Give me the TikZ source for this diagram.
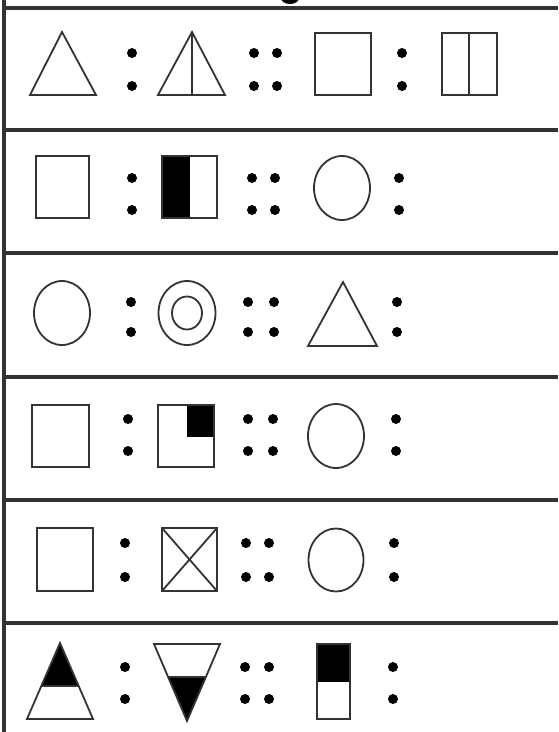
\documentclass[tikz,border=0pt]{standalone}
\usepackage{tikz}
\usetikzlibrary{calc}
\tikzset{
  rule/.style={line width=3.5pt, black!80},
  fig/.style={line width=1.8pt, black!80},
  dotm/.style={fill=black},
}
% the four ":" / "::" marks of one row
\newcommand{\ratiomarks}[6]{%
  \foreach \dx in {#3,#4,#5,#6}
    \foreach \dy in {#1,#2}
      \fill[dotm] (\dx,\dy) circle (5);
}

\begin{document}
\begin{tikzpicture}[x=1pt, y=-1pt]
\useasboundingbox (0,0) rectangle (558,732);
% frame
\begin{scope}
\clip (0,0) rectangle (558,732);
\fill (290,-2) ellipse [x radius=9, y radius=6];
\end{scope}
\draw[rule] (4,0) -- (4,732);
\foreach \y in {8,130,253,377,500,623}
  \draw[rule] (4,\y) -- (558,\y);
% row 1
\draw[fig] (30,95) -- (62,32) -- (96,95) -- cycle;
\draw[fig] (158,95) -- (192,32) -- (225,95) -- cycle;
\draw[fig] (192,32) -- (192,95);
\draw[fig] (315,33) rectangle (371,95);
\draw[fig] (442,33) rectangle (497,95);
\draw[fig] (469,33) -- (469,95);
\ratiomarks{53}{86}{132}{254}{277}{402}
% row 2
\draw[fig] (36,156) rectangle (89,218);
\fill (162,156) rectangle (190,218);
\draw[fig] (162,156) rectangle (217,218);
\draw[fig] (342,188) ellipse [x radius=28, y radius=32];
\ratiomarks{178}{210}{132}{252}{275}{399}
% row 3
\draw[fig] (62,313) ellipse [x radius=28, y radius=32];
\draw[fig] (187,313) ellipse [x radius=28.5, y radius=32];
\draw[fig] (187,313) ellipse [x radius=15, y radius=16.5];
\draw[fig] (308,346) -- (343,282) -- (377,346) -- cycle;
\ratiomarks{302}{332}{131}{248}{274}{397}
% row 4
\draw[fig] (32,405) rectangle (89,467);
\fill (187,405) rectangle (214,437);
\draw[fig] (158,405) rectangle (214,467);
\draw[fig] (336,436) ellipse [x radius=28, y radius=32];
\ratiomarks{419}{451}{128}{248}{273}{396}
% row 5
\draw[fig] (37,528) rectangle (93,591);
\draw[fig] (162,528) rectangle (217,591);
\draw[fig] (162,528) -- (217,591) (162,591) -- (217,528);
\draw[fig] (336,560) ellipse [x radius=27.5, y radius=31.5];
\ratiomarks{543}{577}{125}{246}{269}{394}
% row 6
\coordinate (up) at (60,643);
\coordinate (upl) at (27,719);
\coordinate (upr) at (93,719);
\fill (up) -- ($(up)!0.57!(upl)$) -- ($(up)!0.57!(upr)$) -- cycle;
\draw[fig] (upl) -- (up) -- (upr) -- cycle;
\draw[fig] ($(up)!0.57!(upl)$) -- ($(up)!0.57!(upr)$);
\coordinate (dn) at (187,721);
\coordinate (dnl) at (154,644);
\coordinate (dnr) at (220,644);
\fill (dn) -- ($(dn)!0.57!(dnl)$) -- ($(dn)!0.57!(dnr)$) -- cycle;
\draw[fig] (dnl) -- (dn) -- (dnr) -- cycle;
\draw[fig] ($(dn)!0.57!(dnl)$) -- ($(dn)!0.57!(dnr)$);
\fill (317,644) rectangle (350,682);
\draw[fig] (317,644) rectangle (350,719);
\ratiomarks{667}{699}{125}{245}{269}{393}
\end{tikzpicture}
\end{document}
